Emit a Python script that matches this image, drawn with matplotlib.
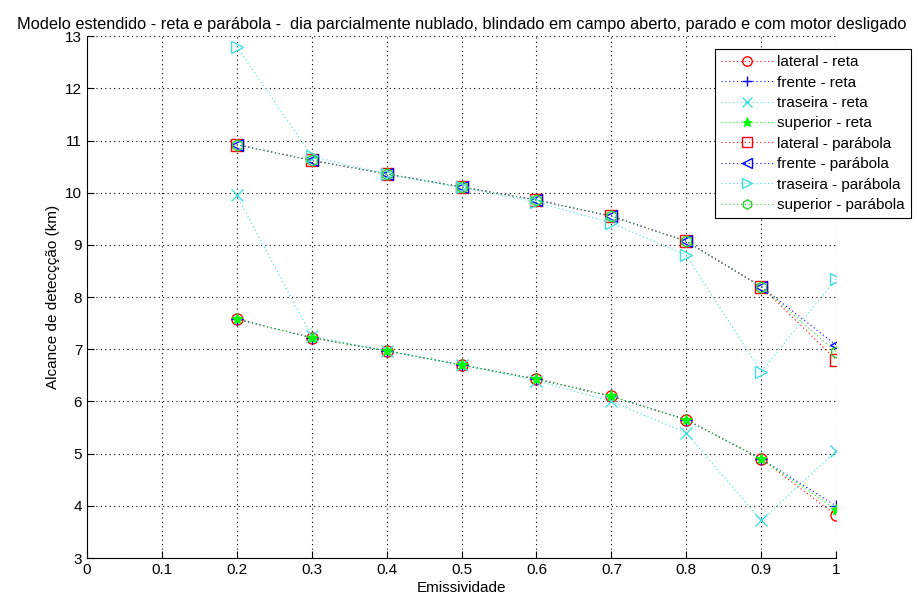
import numpy as np
import matplotlib
matplotlib.use('Agg')
import matplotlib.pyplot as plt

plt.rcParams['font.family'] = ['Liberation Sans', 'DejaVu Sans']

# data
emissividade = [0.2, 0.3, 0.4, 0.5, 0.6, 0.7, 0.8, 0.9, 1.0]

lateral_reta = [7.58, 7.22, 6.97, 6.70, 6.43, 6.10, 5.65, 4.90, 3.82]
frente_reta = [7.58, 7.22, 6.97, 6.70, 6.43, 6.10, 5.65, 4.90, 4.00]
traseira_reta = [9.95, 7.25, 6.97, 6.70, 6.40, 6.00, 5.40, 3.72, 5.05]
superior_reta = [7.58, 7.22, 6.97, 6.70, 6.43, 6.10, 5.65, 4.90, 3.93]

lateral_parab = [10.92, 10.62, 10.36, 10.11, 9.86, 9.55, 9.07, 8.20, 6.80]
frente_parab = [10.92, 10.62, 10.36, 10.11, 9.86, 9.55, 9.07, 8.20, 7.08]
traseira_parab = [12.80, 10.70, 10.35, 10.10, 9.82, 9.42, 8.80, 6.57, 8.35]
superior_parab = [10.92, 10.62, 10.36, 10.11, 9.86, 9.55, 9.07, 8.20, 6.95]

series = [
    (lateral_reta, 'r', 'o', 'lateral - reta'),
    (frente_reta, 'b', '+', 'frente - reta'),
    (traseira_reta, '#40e0e0', 'x', 'traseira - reta'),
    (superior_reta, 'lime', '*', 'superior - reta'),
    (lateral_parab, 'r', 's', 'lateral - parábola'),
    (frente_parab, 'b', '<', 'frente - parábola'),
    (traseira_parab, '#40e0e0', '>', 'traseira - parábola'),
    (superior_parab, 'limegreen', 'h', 'superior - parábola'),
]

fig = plt.figure(figsize=(9.18, 6.02), dpi=100)
ax = fig.add_axes([0.0948, 0.073, 0.816, 0.867])

for values, color, marker, label in series:
    ax.plot(emissividade, values, linestyle=(0, (1, 2.5)), color=color,
            marker=marker, markersize=8,
            markerfacecolor='none' if marker not in '+x*' else color,
            markeredgecolor=color, markeredgewidth=1.0, linewidth=0.8,
            label=label)

ax.set_xlim(0, 1)
ax.set_ylim(3, 13)
ax.set_xticks(np.arange(0, 1.01, 0.1))
ax.set_xticklabels(['0', '0.1', '0.2', '0.3', '0.4', '0.5', '0.6', '0.7',
                    '0.8', '0.9', '1'])
ax.set_yticks(range(3, 14))
ax.grid(True, linestyle=(0, (1, 3)), color='black', linewidth=0.8)
ax.tick_params(direction='in', labelsize=11, length=5)
for side in ['top', 'right']:
    ax.spines[side].set_visible(False)

ax.set_xlabel('Emissividade', fontsize=11, labelpad=3)
ax.set_ylabel('Alcance de detecçção (km)', fontsize=11)
ax.set_title('Modelo estendido - reta e parábola -  dia parcialmente nublado, '
             'blindado em campo aberto, parado e com motor desligado',
             fontsize=11.8, pad=5)

leg = ax.legend(loc='upper right', bbox_to_anchor=(1.11, 0.99),
                fontsize=11, fancybox=False, edgecolor='black',
                framealpha=1, handlelength=3.4, borderpad=0.4,
                labelspacing=0.42, handletextpad=0.25, markerscale=0.85)
leg.get_frame().set_linewidth(0.8)

plt.savefig('out.png', dpi=100)
plt.close()
